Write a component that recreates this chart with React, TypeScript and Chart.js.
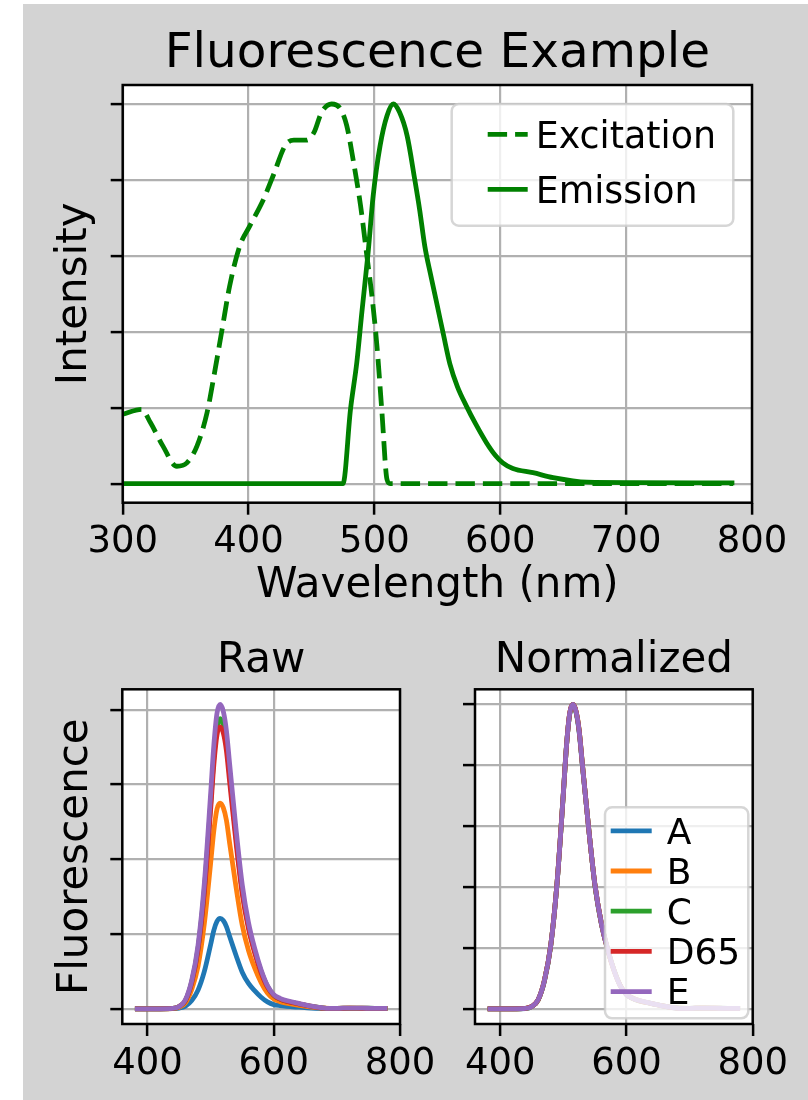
import React, { useEffect, useRef } from "react";
import { Chart, registerables } from "chart.js";

Chart.register(...registerables);

const FONT = "'DejaVu Sans', sans-serif";

// ---------- Top panel: Fluorescence Example ----------
const excitationWl = [300, 315, 322, 332, 343, 351, 359, 367, 373, 379, 385, 393, 401, 412, 420, 429, 436, 446, 452, 458, 466, 473, 478, 483, 489, 494, 498, 502, 506, 510, 512.5, 520, 600, 700, 785];
const excitationVal = [0.183, 0.196, 0.161, 0.099, 0.046, 0.055, 0.099, 0.187, 0.293, 0.407, 0.521, 0.626, 0.679, 0.75, 0.815, 0.89, 0.905, 0.905, 0.925, 0.978, 1.0, 0.987, 0.943, 0.855, 0.732, 0.6, 0.495, 0.363, 0.187, 0.011, 0, 0, 0, 0, 0];

const emissionWl = [300, 475, 481, 486, 490, 495, 499, 504.5, 510, 515, 520, 526, 532, 536, 540, 545, 550, 555, 560, 566, 573, 580, 589, 596, 602, 610, 626, 642, 669, 706, 786];
const emissionVal = [0, 0, 0.196, 0.319, 0.451, 0.609, 0.758, 0.89, 0.969, 1.0, 0.978, 0.916, 0.802, 0.72, 0.626, 0.545, 0.468, 0.39, 0.315, 0.255, 0.205, 0.16, 0.108, 0.075, 0.055, 0.04, 0.029, 0.016, 0.004, 0.003, 0.002];

const topXTicks = [300, 400, 500, 600, 700, 800];
const topYTicks = [0, 0.2, 0.4, 0.6, 0.8, 1.0];

// ---------- Bottom panels: Raw / Normalized ----------
const rawWl = [380, 400, 420, 440, 450, 460, 470, 480, 490, 500, 505, 510, 515, 520, 525, 530, 540, 550, 560, 570, 580, 590, 600, 610, 620, 640, 660, 680, 700, 720, 740, 760, 780];
const rawA = [0, 0, 0, 0.001, 0.009, 0.036, 0.11, 0.25, 0.5, 0.86, 1.05, 1.17, 1.21, 1.18, 1.1, 0.97, 0.72, 0.49, 0.34, 0.24, 0.155, 0.092, 0.056, 0.042, 0.033, 0.021, 0.01, 0.003, 0.002, 0.003, 0.002, 0.002, 0.001];
const rawB = [0, 0, 0, 0.003, 0.02, 0.08, 0.26, 0.57, 1.14, 1.95, 2.38, 2.67, 2.75, 2.69, 2.52, 2.22, 1.64, 1.12, 0.78, 0.54, 0.35, 0.21, 0.13, 0.095, 0.074, 0.047, 0.024, 0.007, 0.003, 0.007, 0.005, 0.004, 0.003];
const rawC = [0, 0, 0, 0.005, 0.03, 0.11, 0.36, 0.81, 1.6, 2.74, 3.35, 3.76, 3.88, 3.79, 3.55, 3.13, 2.31, 1.58, 1.1, 0.76, 0.5, 0.3, 0.18, 0.13, 0.1, 0.067, 0.033, 0.01, 0.005, 0.009, 0.008, 0.006, 0.005];
const rawD65 = [0, 0, 0, 0.005, 0.03, 0.11, 0.35, 0.79, 1.56, 2.67, 3.26, 3.66, 3.77, 3.69, 3.45, 3.04, 2.24, 1.54, 1.07, 0.74, 0.48, 0.29, 0.18, 0.13, 0.1, 0.065, 0.032, 0.009, 0.005, 0.009, 0.007, 0.006, 0.005];
const rawE = [0, 0, 0, 0.005, 0.03, 0.12, 0.38, 0.85, 1.68, 2.88, 3.52, 3.95, 4.07, 3.98, 3.72, 3.28, 2.42, 1.66, 1.15, 0.8, 0.52, 0.31, 0.19, 0.14, 0.11, 0.07, 0.035, 0.01, 0.005, 0.01, 0.008, 0.006, 0.005];

const seriesNames = ["A", "B", "C", "D65", "E"];
const seriesRaw = [rawA, rawB, rawC, rawD65, rawE];
const seriesColors = ["#1f77b4", "#ff7f0e", "#2ca02c", "#d62728", "#9467bd"];

const bottomXTicks = [400, 600, 800];
const rawYTicks = [0, 1, 2, 3, 4];
const normYTicks = [0, 0.2, 0.4, 0.6, 0.8, 1.0];

// ---------- helpers ----------
const toPoints = (xs: number[], ys: number[]) => xs.map((x, i) => ({ x, y: ys[i] }));

function autoRange(values: number[]) {
  const mn = Math.min(...values);
  const mx = Math.max(...values);
  const r = mx - mn;
  return { min: mn - 0.05 * r, max: mx + 0.05 * r };
}

function roundRectPath(ctx: CanvasRenderingContext2D, x: number, y: number, w: number, h: number, r: number) {
  ctx.beginPath();
  ctx.moveTo(x + r, y);
  ctx.lineTo(x + w - r, y);
  ctx.arcTo(x + w, y, x + w, y + r, r);
  ctx.lineTo(x + w, y + h - r);
  ctx.arcTo(x + w, y + h, x + w - r, y + h, r);
  ctx.lineTo(x + r, y + h);
  ctx.arcTo(x, y + h, x, y + h - r, r);
  ctx.lineTo(x, y + r);
  ctx.arcTo(x, y, x + r, y, r);
  ctx.closePath();
}

const framePlugin = {
  id: "frame",
  beforeDraw(chart: any) {
    const { ctx, chartArea: a } = chart;
    ctx.save();
    ctx.fillStyle = "#ffffff";
    ctx.fillRect(a.left, a.top, a.right - a.left, a.bottom - a.top);
    ctx.restore();
  },
  afterDatasetsDraw(chart: any) {
    const { ctx, chartArea: a } = chart;
    ctx.save();
    ctx.strokeStyle = "#000000";
    ctx.lineWidth = 2.5;
    ctx.strokeRect(a.left, a.top, a.right - a.left, a.bottom - a.top);
    ctx.restore();
  },
};

const boxLegendPlugin = {
  id: "boxLegend",
  afterDraw(chart: any, _args: any, o: any) {
    if (!o || !o.show) return;
    const { ctx, chartArea: a } = chart;
    const x0 = a.right - o.right - o.width;
    const y0 = o.anchor === "top" ? a.top + o.offsetY : a.bottom - o.offsetY - o.height;
    ctx.save();
    roundRectPath(ctx, x0, y0, o.width, o.height, o.radius);
    ctx.fillStyle = "rgba(255,255,255,0.8)";
    ctx.fill();
    ctx.strokeStyle = "rgba(204,204,204,0.8)";
    ctx.lineWidth = 2.5;
    ctx.stroke();
    chart.data.datasets.forEach((ds: any, i: number) => {
      const base = y0 + o.firstBaseline + i * o.rowSpacing;
      const ly = base - o.handleRise;
      ctx.beginPath();
      ctx.setLineDash(ds.borderDash || []);
      ctx.lineCap = "butt";
      ctx.strokeStyle = ds.borderColor;
      ctx.lineWidth = ds.borderWidth;
      ctx.moveTo(x0 + o.handleX, ly);
      ctx.lineTo(x0 + o.handleX + o.handleLen, ly);
      ctx.stroke();
      ctx.setLineDash([]);
      ctx.fillStyle = "#000000";
      ctx.font = `${o.fontSize}px ${FONT}`;
      ctx.textBaseline = "alphabetic";
      ctx.textAlign = "left";
      ctx.fillText(ds.label, x0 + o.textX, base);
    });
    ctx.restore();
  },
};

const TICK_FONT = 37;
const TICK_PAD = 9.4;

function xScale(min: number, max: number, ticks: number[], title?: string) {
  return {
    type: "linear",
    min,
    max,
    afterBuildTicks: (s: any) => {
      s.ticks = ticks.map((v) => ({ value: v }));
    },
    ticks: {
      display: true,
      autoSkip: false,
      maxRotation: 0,
      minRotation: 0,
      padding: TICK_PAD,
      color: "#000000",
      font: { family: FONT, size: TICK_FONT, lineHeight: 1 },
    },
    grid: {
      color: "#b0b0b0",
      lineWidth: 2.2,
      tickLength: 12,
      tickColor: "#000000",
      tickWidth: 2.5,
      drawTicks: true,
    },
    border: { display: false },
    title: title
      ? {
          display: true,
          text: title,
          color: "#000000",
          font: { family: FONT, size: 42, lineHeight: 1 },
          padding: { top: -5, bottom: 0 },
        }
      : { display: false },
  };
}

function yScale(min: number, max: number, ticks: number[], title?: string, titleTopPad = 0, titleBottomPad = 0) {
  return {
    type: "linear",
    min,
    max,
    afterBuildTicks: (s: any) => {
      s.ticks = ticks.map((v) => ({ value: v }));
    },
    ticks: { display: false },
    grid: {
      color: "#b0b0b0",
      lineWidth: 2.2,
      tickLength: 12,
      tickColor: "#000000",
      tickWidth: 2.5,
      drawTicks: true,
    },
    border: { display: false },
    title: title
      ? {
          display: true,
          text: title,
          color: "#000000",
          font: { family: FONT, size: 42, lineHeight: 1 },
          padding: { top: titleTopPad, bottom: titleBottomPad },
        }
      : { display: false },
  };
}

function titleOpts(text: string, size: number, top: number, bottom: number) {
  return {
    display: true,
    text,
    color: "#000000",
    fullSize: false,
    font: { family: FONT, size, lineHeight: 1, weight: "normal" },
    padding: { top, bottom },
  };
}

export default function App() {
  const topRef = useRef<HTMLCanvasElement | null>(null);
  const rawRef = useRef<HTMLCanvasElement | null>(null);
  const normRef = useRef<HTMLCanvasElement | null>(null);

  useEffect(() => {
    Chart.defaults.font.family = FONT;
    Chart.defaults.color = "#000000";

    const topRange = autoRange([...excitationVal, ...emissionVal]);
    const topChart = new Chart(topRef.current as HTMLCanvasElement, {
      type: "line",
      data: {
        datasets: [
          {
            label: "Excitation",
            data: toPoints(excitationWl, excitationVal),
            borderColor: "#008000",
            borderWidth: 4.8,
            borderDash: [19.4, 8],
            borderCapStyle: "butt",
            pointRadius: 0,
            cubicInterpolationMode: "monotone",
            fill: false,
            order: 2,
          },
          {
            label: "Emission",
            data: toPoints(emissionWl, emissionVal),
            borderColor: "#008000",
            borderWidth: 4.8,
            pointRadius: 0,
            cubicInterpolationMode: "monotone",
            fill: false,
            order: 1,
          },
        ],
      } as any,
      options: {
        responsive: false,
        animation: false,
        devicePixelRatio: 1,
        layout: { padding: { left: 0, top: 0, right: 56, bottom: 16.5 } },
        scales: {
          x: xScale(300, 800, topXTicks, "Wavelength (nm)"),
          y: yScale(topRange.min, topRange.max, topYTicks, "Intensity", 31.5, 14.2),
        } as any,
        plugins: {
          legend: { display: false },
          tooltip: { enabled: false },
          title: titleOpts("Fluorescence Example", 48.5, 25.75, 6.75),
          boxLegend: {
            show: true,
            anchor: "top",
            right: 18.7,
            offsetY: 19,
            width: 281.6,
            height: 121.7,
            radius: 7,
            firstBaseline: 44.3,
            rowSpacing: 55,
            handleX: 36,
            handleLen: 40,
            handleRise: 14,
            textX: 84,
            fontSize: 36.4,
          },
        } as any,
      },
      plugins: [framePlugin, boxLegendPlugin],
    } as any);

    const rawRange = autoRange(seriesRaw.flat());
    const rawChart = new Chart(rawRef.current as HTMLCanvasElement, {
      type: "line",
      data: {
        datasets: seriesNames.map((name, i) => ({
          label: name,
          data: toPoints(rawWl, seriesRaw[i]),
          borderColor: seriesColors[i],
          borderWidth: 4.8,
          pointRadius: 0,
          cubicInterpolationMode: "monotone",
          fill: false,
          order: seriesNames.length - i,
        })),
      } as any,
      options: {
        responsive: false,
        animation: false,
        devicePixelRatio: 1,
        layout: { padding: { left: 0, top: 0, right: 63, bottom: 8.2 } },
        scales: {
          x: xScale(360, 800, bottomXTicks),
          y: yScale(rawRange.min, rawRange.max, rawYTicks, "Fluorescence", 31.9, 13.4),
        } as any,
        plugins: {
          legend: { display: false },
          tooltip: { enabled: false },
          title: titleOpts("Raw", 42, 16.2, 7.1),
        } as any,
      },
      plugins: [framePlugin],
    } as any);

    const normSeries = seriesRaw.map((arr) => {
      const peak = Math.max(...arr);
      return arr.map((v) => v / peak);
    });
    const normRange = autoRange(normSeries.flat());
    const normChart = new Chart(normRef.current as HTMLCanvasElement, {
      type: "line",
      data: {
        datasets: seriesNames.map((name, i) => ({
          label: name,
          data: toPoints(rawWl, normSeries[i]),
          borderColor: seriesColors[i],
          borderWidth: 4.8,
          pointRadius: 0,
          cubicInterpolationMode: "monotone",
          fill: false,
          order: seriesNames.length - i,
        })),
      } as any,
      options: {
        responsive: false,
        animation: false,
        devicePixelRatio: 1,
        layout: { padding: { left: 40, top: 0, right: 55.3, bottom: 8.2 } },
        scales: {
          x: xScale(360, 800, bottomXTicks),
          y: yScale(normRange.min, normRange.max, normYTicks),
        } as any,
        plugins: {
          legend: { display: false },
          tooltip: { enabled: false },
          title: titleOpts("Normalized", 42, 16.2, 7.1),
          boxLegend: {
            show: true,
            anchor: "bottom",
            right: 4.4,
            offsetY: 5.7,
            width: 143.3,
            height: 211,
            radius: 7,
            firstBaseline: 36.3,
            rowSpacing: 40.2,
            handleX: 5.7,
            handleLen: 41,
            handleRise: 12.8,
            textX: 61.7,
            fontSize: 36,
          },
        } as any,
      },
      plugins: [framePlugin, boxLegendPlugin],
    } as any);

    return () => {
      topChart.destroy();
      rawChart.destroy();
      normChart.destroy();
    };
  }, []);

  return (
    <div style={{ position: "absolute", left: 0, top: 0, width: 808, height: 1100, background: "#ffffff", overflow: "hidden" }}>
      <div style={{ position: "absolute", left: 23, top: 4, width: 785, height: 1096, background: "#d3d3d3" }}>
        <canvas ref={topRef} width={785} height={620} style={{ position: "absolute", left: 0, top: 0, width: 785, height: 620 }} />
        <canvas ref={rawRef} width={440} height={476} style={{ position: "absolute", left: 0, top: 620, width: 440, height: 476 }} />
        <canvas ref={normRef} width={385} height={476} style={{ position: "absolute", left: 400, top: 620, width: 385, height: 476 }} />
      </div>
    </div>
  );
}
